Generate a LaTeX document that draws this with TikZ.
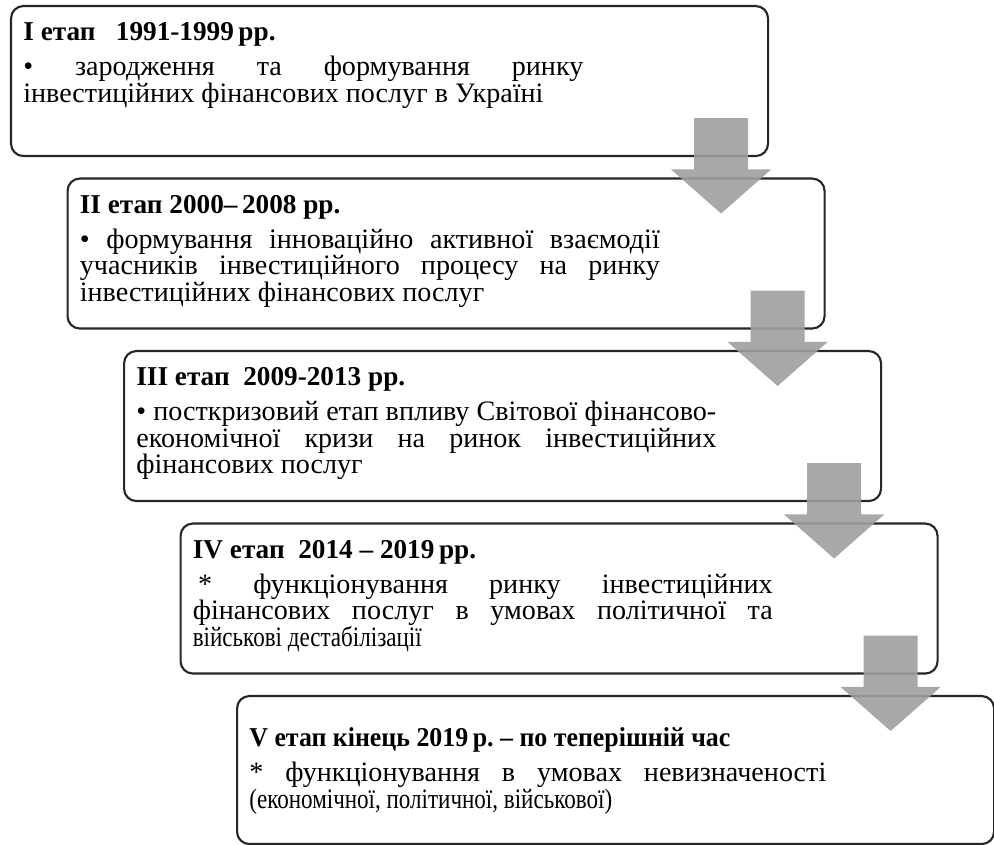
\documentclass[tikz,border=0pt]{standalone}
\usepackage{fontspec}
\setmainfont{Liberation Serif}
\newfontfamily\narrowserif[FakeStretch=0.82]{Liberation Serif}
\newfontfamily\titleserif[FakeStretch=0.95]{Liberation Serif}
\usetikzlibrary{positioning,calc}
\definecolor{frame}{HTML}{262626}
\definecolor{arrowgray}{HTML}{9E9E9E}
\tikzset{
  stagebox/.style={draw=frame, line width=1.2pt, rounded corners=7pt, minimum width=15.14cm, minimum height=3cm, anchor=north west, inner sep=0pt},
  stagetitle/.style={font=\fontsize{15.5}{18}\selectfont\bfseries, inner sep=0pt, anchor=base west},
  stagetext/.style={font=\fontsize{16}{15}\selectfont, text width=11.6cm, align=justify, inner sep=0pt},
  stagearrow/.style={fill=arrowgray, fill opacity=0.9}
}

\begin{document}
\begin{tikzpicture}
  \useasboundingbox (0,0) rectangle (19.88,-16.9);
  % stage boxes, each shifted right and down
  \node[stagebox] (b1) at (0.20,-0.10) {};
  \node[stagebox] (b2) at (1.33,-3.55) {};
  \node[stagebox] (b3) at (2.46,-7.00) {};
  \node[stagebox] (b4) at (3.59,-10.45) {};
  \node[stagebox, minimum height=2.96cm] (b5) at (4.72,-13.90) {};
  % titles
  \node[stagetitle] (t1) at ($(b1.north west)+(0.26,-0.72)$) {I етап\ \ \ 1991-1999\,рр.};
  \node[stagetitle] (t2) at ($(b2.north west)+(0.26,-0.72)$) {II етап 2000–\,2008 рр.};
  \node[stagetitle] (t3) at ($(b3.north west)+(0.26,-0.72)$) {III етап\ \ 2009-2013 рр.};
  \node[stagetitle] (t4) at ($(b4.north west)+(0.26,-0.72)$) {IV етап\ \ 2014 – 2019\,рр.};
  \node[stagetitle] (t5) at ($(b5.north west)+(0.26,-1.04)$) {\titleserif\bfseries V етап кінець 2019\,р.\ – по теперішній час};
  % descriptions, first baseline below the title
  \node[stagetext, text width=11.2cm, below=0.70cm of t1.base west, anchor=base west] (d1)
    {• зародження та формування ринку\linebreak інвестиційних фінансових послуг в Україні};
  \node[stagetext, below=0.70cm of t2.base west, anchor=base west] (d2)
    {• формування інноваційно активної взаємодії\linebreak учасників інвестиційного процесу на ринку\linebreak інвестиційних фінансових послуг};
  \node[stagetext, below=0.70cm of t3.base west, anchor=base west] (d3)
    {• посткризовий етап впливу Світової фінансово-\linebreak економічної кризи на ринок інвестиційних\linebreak фінансових послуг};
  \node[stagetext, below=0.70cm of t4.base west, anchor=base west] (d4)
    {\hspace*{3pt}* функціонування ринку інвестиційних\linebreak фінансових послуг в умовах політичної та\linebreak {\narrowserif військові дестабілізації}};
  \node[stagetext, text width=11.54cm, below=0.70cm of t5.base west, anchor=base west] (d5)
    {* функціонування в умовах невизначеності\linebreak {\narrowserif (економічної, політичної, військової)}};
  % block arrows from one stage to the next
  \foreach \a/\b in {b1/b2,b2/b3,b3/b4,b4/b5} {
    \coordinate (top) at ($(\a.south east)+(-0.96,0.78)$);
    \coordinate (head) at ($(top |- \b.north)+(0,0.16)$);
    \fill[stagearrow] ($(top)+(-0.54,0)$) -- ($(top)+(0.54,0)$) -- ($(head)+(0.54,0)$)
      -- ($(head)+(1.0,0)$) -- ($(head)+(0,-0.88)$) -- ($(head)+(-1.0,0)$)
      -- ($(head)+(-0.54,0)$) -- cycle;
  }
\end{tikzpicture}
\end{document}
